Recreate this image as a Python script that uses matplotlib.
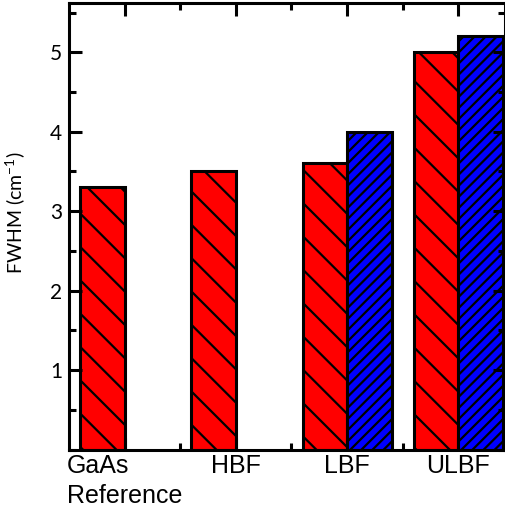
import numpy as np
import matplotlib
matplotlib.use('Agg')
import matplotlib.pyplot as plt
from matplotlib.ticker import MultipleLocator, FixedLocator

plt.rcParams['font.family'] = ['Liberation Sans', 'DejaVu Sans']
plt.rcParams['hatch.linewidth'] = 1.6
plt.rcParams['mathtext.fontset'] = 'custom'
plt.rcParams['mathtext.rm'] = 'Lato'

categories = ['GaAs\nReference', 'HBF', 'LBF', 'ULBF']
red_vals = [3.3, 3.5, 3.6, 5.0]
blue_vals = [np.nan, np.nan, 4.0, 5.2]

x = np.arange(1, len(categories) + 1)
w = 0.4

fig = plt.figure(figsize=(5.06, 5.16), dpi=100)
ax = fig.add_axes([69 / 506, 1 - 449.5 / 516, 436 / 506, 446.5 / 516])

ax.bar(x - w, red_vals, width=w, align='edge', color='#ff0000', edgecolor='black',
       linewidth=2.2, hatch='\\')
ax.bar(x, blue_vals, width=w, align='edge', color='#0000ff', edgecolor='black',
       linewidth=2.2, hatch='///')

ax.set_xlim(0.5, 4.42)
ax.set_ylim(0, 5.62)

ax.xaxis.set_major_locator(FixedLocator(x))
ax.set_xticklabels(categories, fontsize=18, linespacing=1.35)
ax.get_xticklabels()[0].set_multialignment('left')
ax.xaxis.set_minor_locator(FixedLocator([1.5, 2.5, 3.5]))
ax.set_yticks([1, 2, 3, 4, 5])
ax.set_yticklabels(['1', '2', '3', '4', '5'], fontsize=15, family='Lato')
ax.yaxis.set_minor_locator(MultipleLocator(0.5))

ax.tick_params(which='both', direction='in', top=True, right=True, width=2.2)
ax.tick_params(which='major', length=9)
ax.tick_params(which='minor', length=5)
ax.tick_params(axis='x', pad=3)
ax.tick_params(axis='y', pad=5)

for s in ax.spines.values():
    s.set_linewidth(2.2)

ax.set_ylabel('FWHM (cm$^{-1}$)', fontsize=14, family='Lato')
ax.yaxis.set_label_coords(-0.094, 0.53)

fig.savefig('out.png', dpi=100)
